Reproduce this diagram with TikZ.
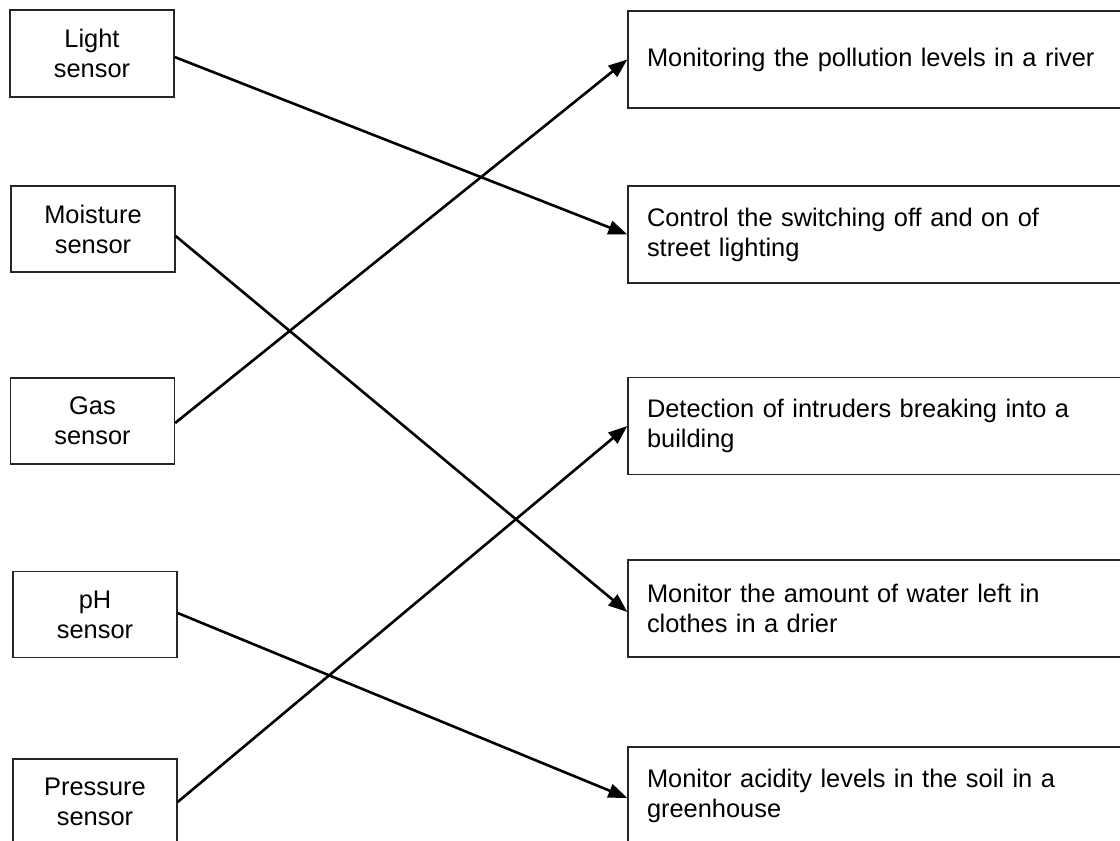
\documentclass[tikz,border=0pt]{standalone}
\usepackage{fontspec}
\setmainfont{Liberation Sans}
\usetikzlibrary{arrows.meta}
\begin{document}
\begin{tikzpicture}[x=1pt,y=-1pt,
  every node/.style={font=\fontsize{25.4}{30}\selectfont},
  sbox/.style={draw=black!85, line width=1.3pt, rectangle, inner sep=0pt,
    minimum width=164pt, minimum height=86pt, align=center},
  abox/.style={draw=black!85, line width=1.3pt, rectangle, inner xsep=19pt, inner ysep=0pt,
    minimum width=512pt, minimum height=97pt, text width=474pt, align=left},
  link/.style={line width=2.6pt, -{Triangle[length=19pt,width=14pt]}}
]
\useasboundingbox (0,0) rectangle (1120,841);
% sensors
\node[sbox, minimum height=87pt] (light) at (92,53.5) {Light\\sensor};
\node[sbox] (moist) at (93,229) {Moisture\\sensor};
\node[sbox] (gas) at (92.5,421) {Gas\\sensor};
\node[sbox] (ph) at (95,614.5) {pH\\sensor};
\node[sbox] (press) at (95,802) {Pressure\\sensor};
% applications
\node[abox] (river) at (884,59.5) {Monitoring the pollution levels in a river};
\node[abox] (street) at (884,234.5) {Control the switching off and on of\\street lighting};
\node[abox] (intr) at (884,426) {Detection of intruders breaking into a\\building};
\node[abox] (drier) at (884,608.5) {Monitor the amount of water left in\\clothes in a drier};
\node[abox] (acid) at (884,795.5) {Monitor acidity levels in the soil in a\\greenhouse};
% connectors
\draw[link] ([yshift=-3.5pt]light.east) -- (street.west);
\draw[link] ([yshift=-7pt]moist.east) -- ([yshift=-3.5pt]drier.west);
\draw[link] ([yshift=-2pt]gas.east) -- (river.west);
\draw[link] ([yshift=1.5pt]ph.east) -- ([yshift=-2.5pt]acid.west);
\draw[link] (press.east) -- (intr.west);
\end{tikzpicture}
\end{document}
